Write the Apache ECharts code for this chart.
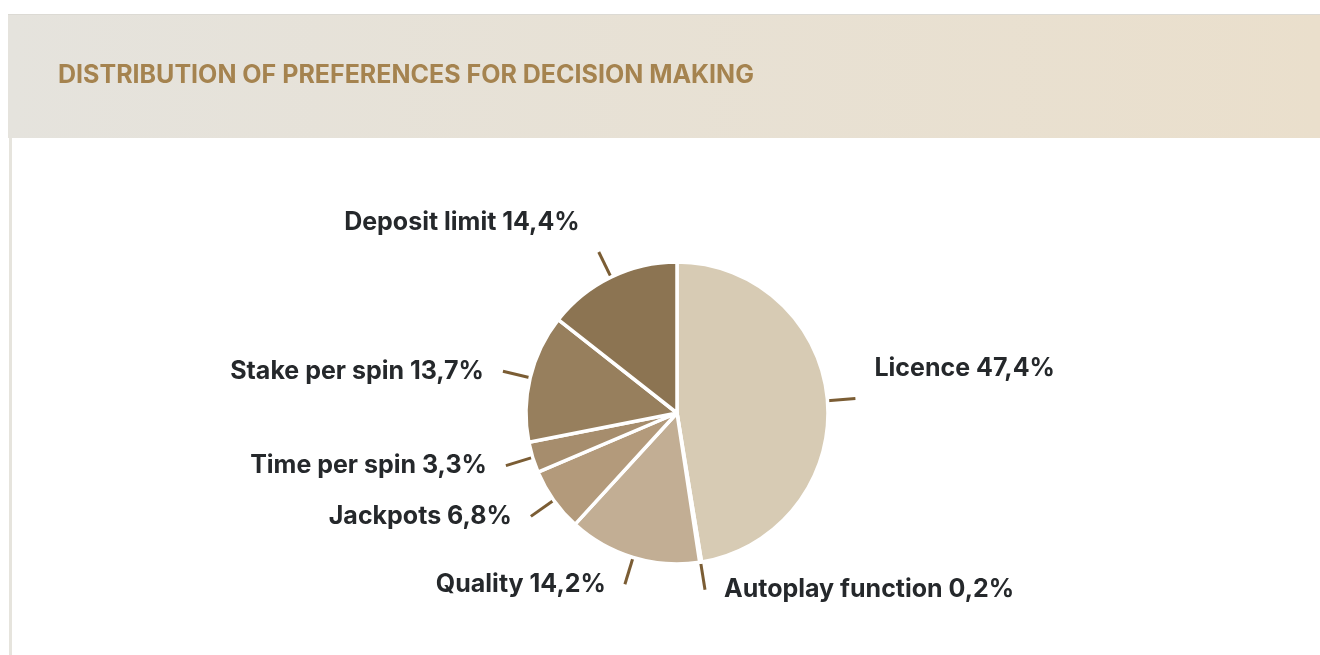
<!DOCTYPE html>
<html>
<head>
<meta charset="utf-8">
<style>
  html, body { margin: 0; padding: 0; background: #fff; }
  #chart-container { width: 1320px; height: 655px; }
</style>
<script src="https://cdn.jsdelivr.net/npm/echarts@6/dist/echarts.min.js"></script>
</head>
<body>
<div id="chart-container"></div>
<script>
// data
var categories = ['Licence', 'Autoplay function', 'Quality', 'Jackpots', 'Time per spin', 'Stake per spin', 'Deposit limit'];
var values = [47.4, 0.2, 14.2, 6.8, 3.3, 13.7, 14.4];
var sliceColors = ['#d7cbb4', '#cbbba2', '#c2ae94', '#b39a7b', '#a68d6d', '#977f5d', '#8c7452'];

var dom = document.getElementById('chart-container');
var myChart = echarts.init(dom, null, { renderer: 'canvas' });

// labels that sit higher than their line in the original
var raisedLabels = ['Licence', 'Deposit limit'];

var pieData = categories.map(function (name, i) {
  return { name: name, value: values[i], itemStyle: { color: sliceColors[i] } };
});

var option = {
  animation: false,
  backgroundColor: '#ffffff',
  // header band + left border of the card
  graphic: [
    {
      type: 'rect',
      shape: { x: 8, y: 14, width: 1312, height: 124 },
      style: {
        fill: new echarts.graphic.LinearGradient(0, 0, 1, 0, [
          { offset: 0, color: '#e5e3dd' },
          { offset: 1, color: '#eadfcc' }
        ])
      },
      z: -10
    },
    {
      type: 'rect',
      shape: { x: 8, y: 14, width: 1312, height: 1 },
      style: { fill: '#dcdad4' },
      z: -9
    },
    {
      type: 'rect',
      shape: { x: 9, y: 138, width: 3, height: 517 },
      style: { fill: '#e6e4dd' },
      z: -9
    }
  ],
  title: {
    text: 'DISTRIBUTION OF PREFERENCES FOR DECISION MAKING',
    left: 53,
    top: 58,
    textStyle: {
      fontFamily: 'Inter',
      fontWeight: 'bold',
      fontSize: 25,
      color: '#a5834f'
    }
  },
  series: [
    {
      type: 'pie',
      center: [677, 413],
      radius: [0, 151],
      startAngle: 90,
      clockwise: true,
      data: pieData,
      itemStyle: { borderColor: '#ffffff', borderWidth: 3.5 },
      label: {
        position: 'outside',
        distanceToLabelLine: 19,
        formatter: function (p) {
          var txt = p.name + ' ' + p.value.toFixed(1).replace('.', ',') + '%';
          if (raisedLabels.indexOf(p.name) >= 0) {
            return '{t|' + txt + '}\n{gap|}';
          }
          return '{t|' + txt + '}';
        },
        rich: {
          t: {
            fontFamily: 'Inter',
            fontWeight: 'bold',
            fontSize: 25,
            lineHeight: 30,
            color: '#25282b'
          },
          gap: { fontSize: 1, lineHeight: 60 }
        }
      },
      labelLine: {
        show: true,
        length: 28,
        length2: 0,
        smooth: false,
        lineStyle: { color: '#7b5d34', width: 3 }
      },
      emphasis: { disabled: true }
    }
  ]
};

myChart.setOption(option);
window.addEventListener('resize', myChart.resize);
</script>
</body>
</html>
